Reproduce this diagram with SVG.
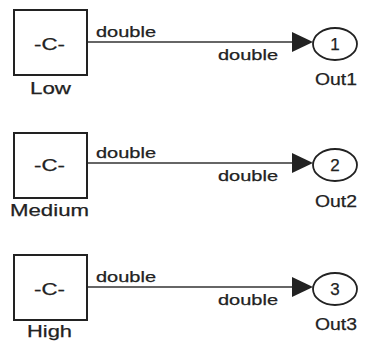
<svg xmlns="http://www.w3.org/2000/svg" width="365" height="342" viewBox="0 0 365 342">
<style>
.blk{fill:#fff;stroke:#222;stroke-width:2}
.port{fill:#fff;stroke:#222;stroke-width:1.8}
.ln{stroke:#333;stroke-width:1.6;fill:none}
.ah{fill:#222}
text{font-family:"Liberation Sans",Arial,sans-serif;fill:#222;stroke:#222;stroke-width:0.25}
.sig{font-size:15px}
.lbl{font-size:17px}
.c{font-size:17px}
</style>
<rect width="365" height="342" fill="#fff"/>
<g id="connectors">
<line class="ln" x1="87" y1="42" x2="293" y2="42"/>
<polygon class="ah" points="292,32 292,52 313,42"/>
<text class="sig" x="96" y="37" textLength="60" lengthAdjust="spacingAndGlyphs">double</text>
<text class="sig" x="218" y="60" textLength="60" lengthAdjust="spacingAndGlyphs">double</text>
<line class="ln" x1="87" y1="163" x2="293" y2="163"/>
<polygon class="ah" points="292,153 292,173 313,163"/>
<text class="sig" x="96" y="158" textLength="60" lengthAdjust="spacingAndGlyphs">double</text>
<text class="sig" x="218" y="181" textLength="60" lengthAdjust="spacingAndGlyphs">double</text>
<line class="ln" x1="87" y1="287" x2="293" y2="287"/>
<polygon class="ah" points="292,277 292,297 313,287"/>
<text class="sig" x="96" y="282" textLength="60" lengthAdjust="spacingAndGlyphs">double</text>
<text class="sig" x="218" y="305" textLength="60" lengthAdjust="spacingAndGlyphs">double</text>
</g>
<g id="Low">
<rect class="blk" x="14" y="10" width="73" height="65"/>
<text class="c" x="34" y="50" textLength="31" lengthAdjust="spacingAndGlyphs">-C-</text>
<text class="lbl" x="30" y="94" textLength="41" lengthAdjust="spacingAndGlyphs">Low</text>
</g>
<g id="Medium">
<rect class="blk" x="14" y="133" width="73" height="65"/>
<text class="c" x="34" y="171" textLength="31" lengthAdjust="spacingAndGlyphs">-C-</text>
<text class="lbl" x="10" y="216" textLength="79" lengthAdjust="spacingAndGlyphs">Medium</text>
</g>
<g id="High">
<rect class="blk" x="14" y="255" width="73" height="65"/>
<text class="c" x="34" y="295" textLength="31" lengthAdjust="spacingAndGlyphs">-C-</text>
<text class="lbl" x="27" y="337" font-size="16" textLength="45" lengthAdjust="spacingAndGlyphs">High</text>
</g>
<g id="Out1">
<ellipse class="port" cx="335" cy="44" rx="22" ry="16"/>
<text class="c" x="335" y="50" text-anchor="middle">1</text>
<text class="lbl" x="315" y="85" textLength="42" lengthAdjust="spacingAndGlyphs">Out1</text>
</g>
<g id="Out2">
<ellipse class="port" cx="335" cy="165" rx="22" ry="16"/>
<text class="c" x="335" y="171" text-anchor="middle">2</text>
<text class="lbl" x="315" y="207" textLength="42" lengthAdjust="spacingAndGlyphs">Out2</text>
</g>
<g id="Out3">
<ellipse class="port" cx="335" cy="289" rx="22" ry="16"/>
<text class="c" x="335" y="295" text-anchor="middle">3</text>
<text class="lbl" x="315" y="330" textLength="42" lengthAdjust="spacingAndGlyphs">Out3</text>
</g>
</svg>
